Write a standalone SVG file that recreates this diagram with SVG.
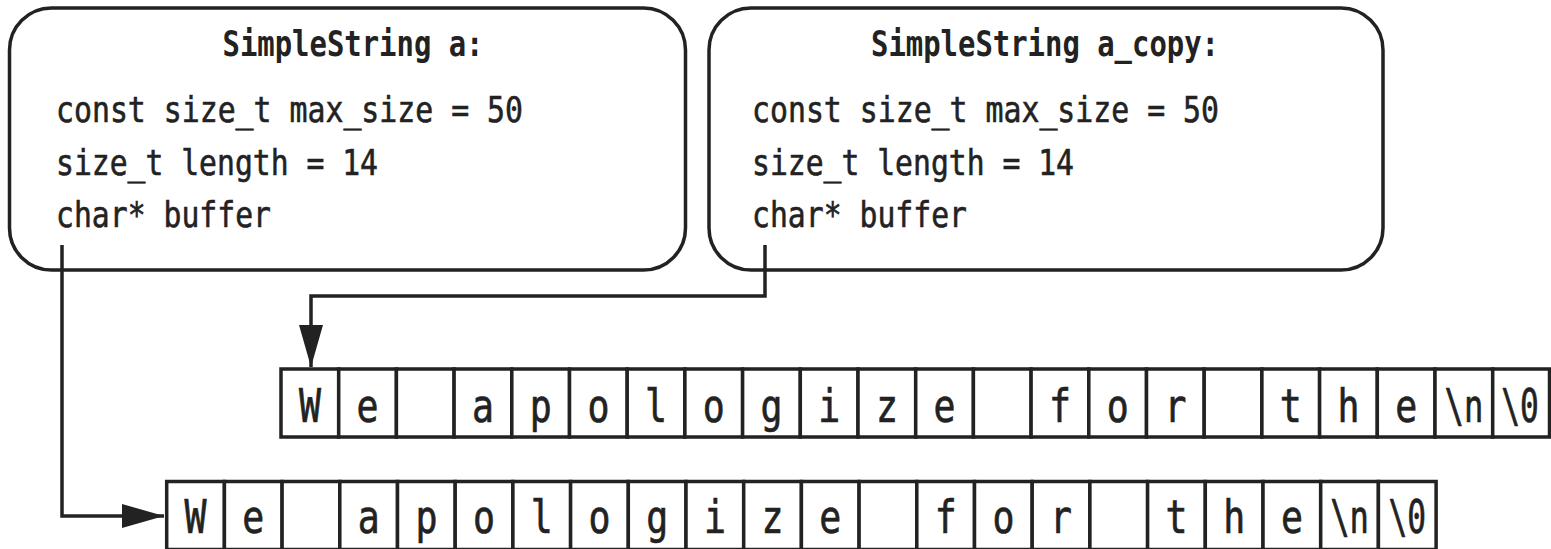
<svg xmlns="http://www.w3.org/2000/svg" width="1551" height="549" viewBox="0 0 1551 549">
  <style>
    .box { fill: #ffffff; stroke: #222222; stroke-width: 3.5; }
    .cell { fill: #ffffff; stroke: #222222; stroke-width: 3.5; }
    .wire { fill: none; stroke: #222222; stroke-width: 3.5; }
    .title { font-family: "DejaVu Sans Mono", "Liberation Mono", monospace; font-weight: bold; font-size: 36px; fill: #222222; text-anchor: middle; }
    .field { font-family: "DejaVu Sans Mono", "Liberation Mono", monospace; font-size: 36px; fill: #222222; stroke: #222222; stroke-width: 0.6; }
    .ch { font-family: "DejaVu Sans Mono", "Liberation Mono", monospace; font-size: 46px; fill: #222222; stroke: #222222; stroke-width: 0.7; text-anchor: middle; }
  </style>
  <defs>
    <marker id="arrow" markerUnits="userSpaceOnUse" markerWidth="44" markerHeight="26" refX="42" refY="12" orient="auto">
      <path d="M0,0 L42,12 L0,24 Z" fill="#222222"/>
    </marker>
  </defs>
  <rect width="1551" height="549" fill="#ffffff"/>

  <!-- object a -->
  <g id="node-a">
    <rect class="box" x="9.5" y="8" width="676" height="262" rx="42" ry="42"/>
    <text class="title" x="353" y="56" textLength="261" lengthAdjust="spacingAndGlyphs">SimpleString a:</text>
    <text class="field" x="56" y="122" textLength="467" lengthAdjust="spacingAndGlyphs">const size_t max_size = 50</text>
    <text class="field" x="56" y="175" textLength="322" lengthAdjust="spacingAndGlyphs">size_t length = 14</text>
    <text class="field" x="56" y="227" textLength="215" lengthAdjust="spacingAndGlyphs">char* buffer</text>
  </g>

  <!-- object a_copy -->
  <g id="node-a-copy">
    <rect class="box" x="709" y="8" width="674" height="262" rx="42" ry="42"/>
    <text class="title" x="1045" y="56" textLength="348" lengthAdjust="spacingAndGlyphs">SimpleString a_copy:</text>
    <text class="field" x="752" y="122" textLength="467" lengthAdjust="spacingAndGlyphs">const size_t max_size = 50</text>
    <text class="field" x="752" y="175" textLength="322" lengthAdjust="spacingAndGlyphs">size_t length = 14</text>
    <text class="field" x="752" y="227" textLength="215" lengthAdjust="spacingAndGlyphs">char* buffer</text>
  </g>

  <!-- buffer owned by a_copy -->
  <g id="buffer-copy">
    <rect class="cell" x="281" y="369" width="57.7" height="68"/>
    <rect class="cell" x="338.7" y="369" width="57.7" height="68"/>
    <rect class="cell" x="396.4" y="369" width="57.7" height="68"/>
    <rect class="cell" x="454.1" y="369" width="57.7" height="68"/>
    <rect class="cell" x="511.8" y="369" width="57.7" height="68"/>
    <rect class="cell" x="569.5" y="369" width="57.7" height="68"/>
    <rect class="cell" x="627.2" y="369" width="57.7" height="68"/>
    <rect class="cell" x="684.9" y="369" width="57.7" height="68"/>
    <rect class="cell" x="742.6" y="369" width="57.7" height="68"/>
    <rect class="cell" x="800.3" y="369" width="57.7" height="68"/>
    <rect class="cell" x="858" y="369" width="57.7" height="68"/>
    <rect class="cell" x="915.7" y="369" width="57.7" height="68"/>
    <rect class="cell" x="973.4" y="369" width="57.7" height="68"/>
    <rect class="cell" x="1031.1" y="369" width="57.7" height="68"/>
    <rect class="cell" x="1088.8" y="369" width="57.7" height="68"/>
    <rect class="cell" x="1146.5" y="369" width="57.7" height="68"/>
    <rect class="cell" x="1204.2" y="369" width="57.7" height="68"/>
    <rect class="cell" x="1261.9" y="369" width="57.7" height="68"/>
    <rect class="cell" x="1319.6" y="369" width="57.7" height="68"/>
    <rect class="cell" x="1377.3" y="369" width="57.7" height="68"/>
    <rect class="cell" x="1435" y="369" width="57.7" height="68"/>
    <rect class="cell" x="1492.7" y="369" width="56.8" height="68"/>
    <text class="ch" y="422" x="309.9" textLength="22" lengthAdjust="spacingAndGlyphs">W</text>
    <text class="ch" y="422" x="367.6" textLength="22" lengthAdjust="spacingAndGlyphs">e</text>
    <text class="ch" y="422" x="483" textLength="22" lengthAdjust="spacingAndGlyphs">a</text>
    <text class="ch" y="422" x="540.7" textLength="22" lengthAdjust="spacingAndGlyphs">p</text>
    <text class="ch" y="422" x="598.4" textLength="22" lengthAdjust="spacingAndGlyphs">o</text>
    <text class="ch" y="422" x="656.1" textLength="22" lengthAdjust="spacingAndGlyphs">l</text>
    <text class="ch" y="422" x="713.8" textLength="22" lengthAdjust="spacingAndGlyphs">o</text>
    <text class="ch" y="422" x="771.5" textLength="22" lengthAdjust="spacingAndGlyphs">g</text>
    <text class="ch" y="422" x="829.2" textLength="22" lengthAdjust="spacingAndGlyphs">i</text>
    <text class="ch" y="422" x="886.9" textLength="22" lengthAdjust="spacingAndGlyphs">z</text>
    <text class="ch" y="422" x="944.6" textLength="22" lengthAdjust="spacingAndGlyphs">e</text>
    <text class="ch" y="422" x="1060" textLength="22" lengthAdjust="spacingAndGlyphs">f</text>
    <text class="ch" y="422" x="1117.7" textLength="22" lengthAdjust="spacingAndGlyphs">o</text>
    <text class="ch" y="422" x="1175.4" textLength="22" lengthAdjust="spacingAndGlyphs">r</text>
    <text class="ch" y="422" x="1290.8" textLength="22" lengthAdjust="spacingAndGlyphs">t</text>
    <text class="ch" y="422" x="1348.5" textLength="22" lengthAdjust="spacingAndGlyphs">h</text>
    <text class="ch" y="422" x="1406.2" textLength="22" lengthAdjust="spacingAndGlyphs">e</text>
    <text class="ch" transform="translate(1463.9,422) scale(0.7,1)">\n</text>
    <text class="ch" transform="translate(1520,422) scale(0.68,1)">\0</text>
  </g>

  <!-- buffer owned by a -->
  <g id="buffer-a">
    <rect class="cell" x="166.7" y="481.5" width="57.7" height="68"/>
    <rect class="cell" x="224.4" y="481.5" width="57.7" height="68"/>
    <rect class="cell" x="282.1" y="481.5" width="57.7" height="68"/>
    <rect class="cell" x="339.8" y="481.5" width="57.7" height="68"/>
    <rect class="cell" x="397.5" y="481.5" width="57.7" height="68"/>
    <rect class="cell" x="455.2" y="481.5" width="57.7" height="68"/>
    <rect class="cell" x="512.9" y="481.5" width="57.7" height="68"/>
    <rect class="cell" x="570.6" y="481.5" width="57.7" height="68"/>
    <rect class="cell" x="628.3" y="481.5" width="57.7" height="68"/>
    <rect class="cell" x="686" y="481.5" width="57.7" height="68"/>
    <rect class="cell" x="743.7" y="481.5" width="57.7" height="68"/>
    <rect class="cell" x="801.4" y="481.5" width="57.7" height="68"/>
    <rect class="cell" x="859.1" y="481.5" width="57.7" height="68"/>
    <rect class="cell" x="916.8" y="481.5" width="57.7" height="68"/>
    <rect class="cell" x="974.5" y="481.5" width="57.7" height="68"/>
    <rect class="cell" x="1032.2" y="481.5" width="57.7" height="68"/>
    <rect class="cell" x="1089.9" y="481.5" width="57.7" height="68"/>
    <rect class="cell" x="1147.6" y="481.5" width="57.7" height="68"/>
    <rect class="cell" x="1205.3" y="481.5" width="57.7" height="68"/>
    <rect class="cell" x="1263" y="481.5" width="57.7" height="68"/>
    <rect class="cell" x="1320.7" y="481.5" width="57.7" height="68"/>
    <rect class="cell" x="1378.4" y="481.5" width="57.7" height="68"/>
    <text class="ch" y="533" x="195.6" textLength="22" lengthAdjust="spacingAndGlyphs">W</text>
    <text class="ch" y="533" x="253.3" textLength="22" lengthAdjust="spacingAndGlyphs">e</text>
    <text class="ch" y="533" x="368.7" textLength="22" lengthAdjust="spacingAndGlyphs">a</text>
    <text class="ch" y="533" x="426.4" textLength="22" lengthAdjust="spacingAndGlyphs">p</text>
    <text class="ch" y="533" x="484.1" textLength="22" lengthAdjust="spacingAndGlyphs">o</text>
    <text class="ch" y="533" x="541.8" textLength="22" lengthAdjust="spacingAndGlyphs">l</text>
    <text class="ch" y="533" x="599.5" textLength="22" lengthAdjust="spacingAndGlyphs">o</text>
    <text class="ch" y="533" x="657.2" textLength="22" lengthAdjust="spacingAndGlyphs">g</text>
    <text class="ch" y="533" x="714.9" textLength="22" lengthAdjust="spacingAndGlyphs">i</text>
    <text class="ch" y="533" x="772.6" textLength="22" lengthAdjust="spacingAndGlyphs">z</text>
    <text class="ch" y="533" x="830.3" textLength="22" lengthAdjust="spacingAndGlyphs">e</text>
    <text class="ch" y="533" x="945.7" textLength="22" lengthAdjust="spacingAndGlyphs">f</text>
    <text class="ch" y="533" x="1003.4" textLength="22" lengthAdjust="spacingAndGlyphs">o</text>
    <text class="ch" y="533" x="1061.1" textLength="22" lengthAdjust="spacingAndGlyphs">r</text>
    <text class="ch" y="533" x="1176.5" textLength="22" lengthAdjust="spacingAndGlyphs">t</text>
    <text class="ch" y="533" x="1234.2" textLength="22" lengthAdjust="spacingAndGlyphs">h</text>
    <text class="ch" y="533" x="1291.9" textLength="22" lengthAdjust="spacingAndGlyphs">e</text>
    <text class="ch" transform="translate(1349.6,533) scale(0.7,1)">\n</text>
    <text class="ch" transform="translate(1407.3,533) scale(0.68,1)">\0</text>
  </g>

  <!-- buffer pointers -->
  <g id="connectors">
    <path class="wire" d="M62,245 V516 H164" marker-end="url(#arrow)"/>
    <path class="wire" d="M765,245 V296 H311 V367" marker-end="url(#arrow)"/>
  </g>
</svg>
